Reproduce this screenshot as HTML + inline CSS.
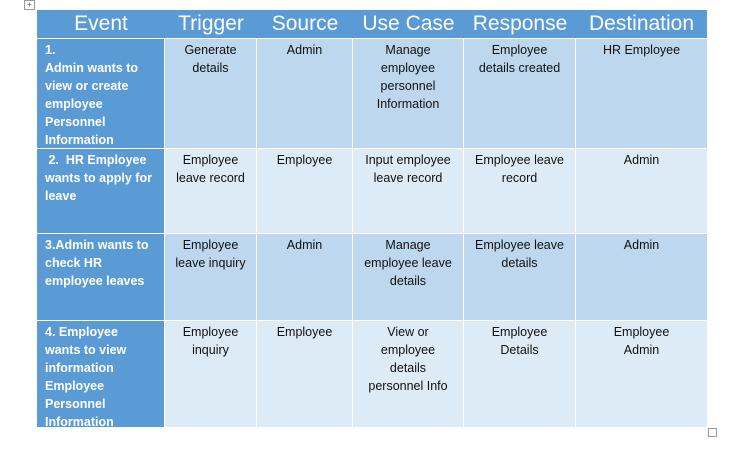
<!DOCTYPE html>
<html><head><style>
body{margin:0;width:741px;height:459px;background:#fff;position:relative;overflow:hidden;font-family:"Liberation Sans",sans-serif}
.c{position:absolute;box-sizing:border-box;font-size:12.5px;line-height:18px;color:#111;text-align:center;padding-top:2px;border-right:1px solid #fff;border-bottom:1px solid #fff}
.h{background:#5b9bd5;color:#fff;font-size:21px;line-height:28px;padding-top:0;border-right:0}
.e{background:#5b9bd5;color:#fff;font-weight:bold;text-align:left;padding-left:8px;padding-right:12px;padding-top:2px}
.a{background:#bdd7ee}.b{background:#ddebf7}
</style></head><body>
<div style="position:absolute;left:24px;top:0;width:9px;height:8px;border:1px solid #999;font-size:8px;line-height:8px;text-align:center;color:#555">+</div>
<div style="position:absolute;left:708px;top:428px;width:7px;height:7px;border:1px solid #999"></div>

<div class="c h" style="left:37px;top:10px;width:128px;height:29px">Event</div>
<div class="c h" style="left:165px;top:10px;width:92px;height:29px">Trigger</div>
<div class="c h" style="left:257px;top:10px;width:96px;height:29px">Source</div>
<div class="c h" style="left:353px;top:10px;width:111px;height:29px">Use Case</div>
<div class="c h" style="left:464px;top:10px;width:112px;height:29px">Response</div>
<div class="c h" style="left:576px;top:10px;width:131px;height:29px;border-right:0">Destination</div>

<div class="c e" style="left:37px;top:39px;width:128px;height:110px">1.<br>Admin wants to view or create employee Personnel Information</div>
<div class="c a" style="left:165px;top:39px;width:92px;height:110px">Generate<br>details</div>
<div class="c a" style="left:257px;top:39px;width:96px;height:110px">Admin</div>
<div class="c a" style="left:353px;top:39px;width:111px;height:110px">Manage<br>employee<br>personnel<br>Information</div>
<div class="c a" style="left:464px;top:39px;width:112px;height:110px">Employee<br>details created</div>
<div class="c a" style="left:576px;top:39px;width:131px;height:110px;border-right:0">HR Employee</div>

<div class="c e" style="left:37px;top:149px;width:128px;height:85px">&nbsp;2.&nbsp; HR Employee wants to apply for leave</div>
<div class="c b" style="left:165px;top:149px;width:92px;height:85px">Employee<br>leave record</div>
<div class="c b" style="left:257px;top:149px;width:96px;height:85px">Employee</div>
<div class="c b" style="left:353px;top:149px;width:111px;height:85px">Input employee<br>leave record</div>
<div class="c b" style="left:464px;top:149px;width:112px;height:85px">Employee leave<br>record</div>
<div class="c b" style="left:576px;top:149px;width:131px;height:85px;border-right:0">Admin</div>

<div class="c e" style="left:37px;top:234px;width:128px;height:87px">3.Admin wants to check HR employee leaves</div>
<div class="c a" style="left:165px;top:234px;width:92px;height:87px">Employee<br>leave inquiry</div>
<div class="c a" style="left:257px;top:234px;width:96px;height:87px">Admin</div>
<div class="c a" style="left:353px;top:234px;width:111px;height:87px">Manage<br>employee leave<br>details</div>
<div class="c a" style="left:464px;top:234px;width:112px;height:87px">Employee leave<br>details</div>
<div class="c a" style="left:576px;top:234px;width:131px;height:87px;border-right:0">Admin</div>

<div class="c e" style="left:37px;top:321px;width:128px;height:106px;border-bottom:0">4. Employee wants to view information Employee Personnel Information</div>
<div class="c b" style="left:165px;top:321px;width:92px;height:106px;border-bottom:0">Employee<br>inquiry</div>
<div class="c b" style="left:257px;top:321px;width:96px;height:106px;border-bottom:0">Employee</div>
<div class="c b" style="left:353px;top:321px;width:111px;height:106px;border-bottom:0">View or<br>employee<br>details<br>personnel Info</div>
<div class="c b" style="left:464px;top:321px;width:112px;height:106px;border-bottom:0">Employee<br>Details</div>
<div class="c b" style="left:576px;top:321px;width:131px;height:106px;border:0">Employee<br>Admin</div>
</body></html>
